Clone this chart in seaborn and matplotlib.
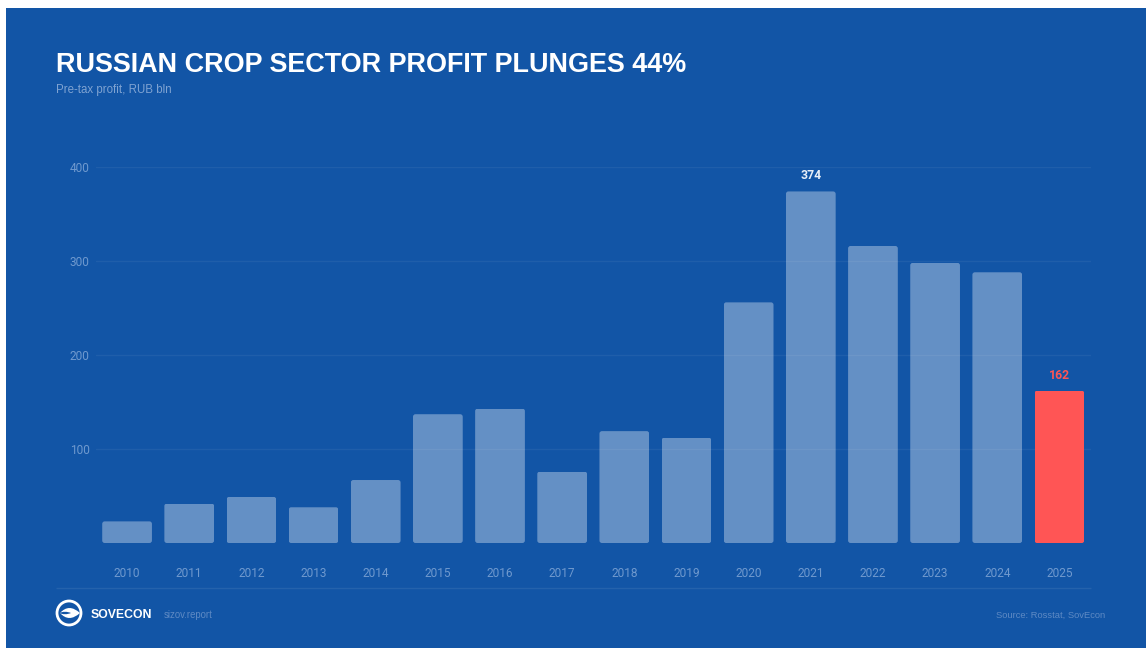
import matplotlib
matplotlib.use("Agg")
import matplotlib.pyplot as plt
from matplotlib.patches import Circle, FancyBboxPatch, PathPatch, Rectangle
from matplotlib.path import Path
import pandas as pd
import seaborn as sns

years = [str(y) for y in range(2010, 2026)]
profit = [23, 42, 49, 38, 67, 137, 143, 76, 119, 112, 256, 374, 316, 298, 288, 162]
y_ticks = [100, 200, 300, 400]
labelled_years = ["2021", "2025"]

title = "RUSSIAN CROP SECTOR PROFIT PLUNGES 44%"
subtitle = "Pre-tax profit, RUB bln"
source = "Source: Rosstat, SovEcon"
brand = "SOVECON"
site = "sizov.report"

W, H = 1146, 648
BLUE = "#1255A6"
RED = "#FF5555"
MUTED = "#7FA3D2"
FAINT = "#5E8AC4"
TICK = "#6F99CE"

sns.set_theme(style="white")
plt.rcParams["font.family"] = ["Liberation Sans", "DejaVu Sans"]

fig = plt.figure(figsize=(W / 100, H / 100), dpi=100, facecolor="white")

# Page layer in pixel coordinates, y running downwards
page = fig.add_axes([0, 0, 1, 1], zorder=0)
page.set_xlim(0, W)
page.set_ylim(H, 0)
page.axis("off")
page.add_patch(Rectangle((6, 8), W - 6, H - 8, facecolor=BLUE, edgecolor="none"))

page.text(56, 64.5, title, color="white", fontsize=19.48, fontweight="bold", va="center", ha="left")
page.text(56, 89.5, subtitle, color=MUTED, fontsize=8.3, va="center", ha="left")

# Footer rule and texts
page.plot([56, 1091], [588, 588], color="white", alpha=0.08, lw=1, solid_capstyle="butt")
page.text(91, 615, brand, color="white", fontsize=8.8, fontweight="bold", va="center", ha="left")
page.text(164, 615, site, color=FAINT, fontsize=6.9, va="center", ha="left")
page.text(1105, 615, source, color=FAINT, fontsize=6.75, va="center", ha="right")

# Brand mark: ring with a lens shape cut by a notch
page.add_patch(Circle((69, 613), 12, facecolor="none", edgecolor="white", lw=2))
lens = Path(
    [(60, 613), (69, 603), (80, 613), (69, 623), (60, 613)],
    [Path.MOVETO, Path.CURVE3, Path.CURVE3, Path.CURVE3, Path.CURVE3],
)
page.add_patch(PathPatch(lens, facecolor="white", edgecolor="none"))
notch = Path(
    [(59, 613), (65, 610.5), (71, 613), (65, 615.5), (59, 613)],
    [Path.MOVETO, Path.CURVE3, Path.CURVE3, Path.CURVE3, Path.CURVE3],
)
page.add_patch(PathPatch(notch, facecolor=BLUE, edgecolor="none"))

# Chart area
left, right, top, bottom = 96, 1090.5, 167, 543
ax = fig.add_axes([left / W, 1 - bottom / H, (right - left) / W, (bottom - top) / H], zorder=1)
ax.patch.set_alpha(0)

data = pd.DataFrame({"year": years, "profit": profit})
sns.barplot(data=data, x="year", y="profit", ax=ax, width=0.8, color="white",
            saturation=1, errorbar=None, zorder=3)

ax.set_xlim(-0.5, len(years) - 0.5)
ax.set_ylim(0, 400)
ax.set_xlabel("")
ax.set_ylabel("")
ax.set_yticks(y_ticks)
ax.yaxis.grid(True, color="white", alpha=0.055, lw=1)
ax.set_axisbelow(True)
sns.despine(ax=ax, left=True, bottom=True)
ax.tick_params(axis="both", length=0, colors=TICK)
ax.tick_params(axis="x", pad=17)
ax.tick_params(axis="y", pad=4.5)
for lab in ax.get_xticklabels() + ax.get_yticklabels():
    lab.set_fontfamily("Roboto")
    lab.set_fontsize(8.6)
    lab.set_color(TICK)

# Rounded corners and colours for the bars
x_px = (right - left) / len(years)
y_px = (bottom - top) / 400
radius = 2.5 / x_px
for bar, year in zip(ax.patches, years):
    highlighted = year == "2025"
    bar.set_facecolor(RED if highlighted else "white")
    bar.set_alpha(1 if highlighted else 0.35)
    bar.set_edgecolor("none")
    clip = FancyBboxPatch(
        (bar.get_x(), bar.get_y()), bar.get_width(), bar.get_height(),
        boxstyle=f"round,pad=0,rounding_size={radius}",
        mutation_aspect=x_px / y_px, transform=ax.transData,
    )
    bar.set_clip_path(clip)
    if year in labelled_years:
        ax.annotate(
            f"{bar.get_height():.0f}",
            (bar.get_x() + bar.get_width() / 2, bar.get_height()),
            xytext=(0, 15.5), textcoords="offset pixels", ha="center", va="center",
            color=RED if highlighted else "#E8EFF8",
            fontsize=8.8, fontweight="bold", family="Roboto",
        )

fig.savefig("out.png", dpi=100)
